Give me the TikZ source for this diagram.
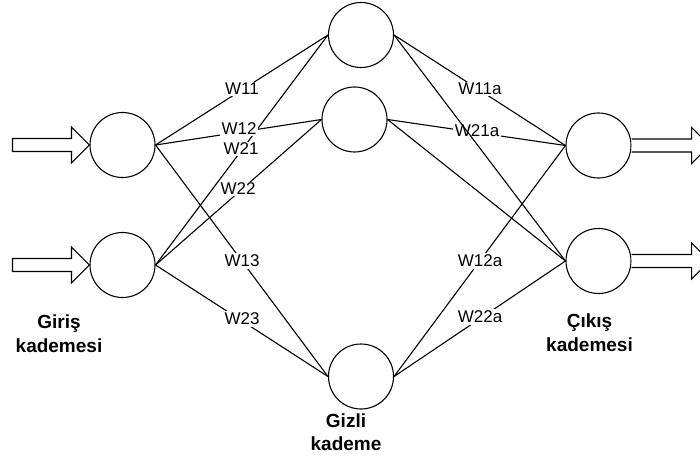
\documentclass[tikz,border=0pt]{standalone}
\usepackage{fontspec}
\setmainfont{Liberation Sans}
\begin{document}
\begin{tikzpicture}[x=1pt,y=-1pt,
  neuron/.style={circle,draw,line width=1.1pt,minimum size=65pt,inner sep=0pt,fill=white},
  wlabel/.style={fill=white,inner sep=1.5pt,font=\fontsize{17}{19}\selectfont},
  edge/.style={line width=1.1pt},
  stagetitle/.style={font=\fontsize{19}{23.5}\selectfont\bfseries,align=center,inner sep=0pt,anchor=north},
  blockarrow/.style={draw,line width=1.1pt,fill=white,line join=miter}]
\useasboundingbox (0,0) rectangle (700,457);
% neurons
\node[neuron] (i1) at (122.5,145) {};
\node[neuron] (i2) at (122.5,265) {};
\node[neuron] (h1) at (361,35) {};
\node[neuron] (h2) at (354.5,119.5) {};
\node[neuron] (h3) at (361,376.5) {};
\node[neuron] (o1) at (598.5,145.5) {};
\node[neuron] (o2) at (598.5,261) {};
% labelled connectors
\draw[edge] (i1.east) -- (h1.west);
\draw[edge] (i1.east) -- (h2.west);
\draw[edge] (i1.east) -- (h3.west);
\draw[edge] (i2.east) -- (h1.west);
\draw[edge] (i2.east) -- (h2.west);
\draw[edge] (i2.east) -- (h3.west);
\draw[edge] (h1.east) -- (o1.west);
\draw[edge] (h2.east) -- (o1.west);
\draw[edge] (h3.east) -- (o1.west);
\draw[edge] (h3.east) -- (o2.west);
% weight labels
\node[wlabel] (w11) at (242,89) {W11};
\node[wlabel] (w21) at (241,149) {W21};
\node[wlabel] (w12) at (239,129) {W12};
\node[wlabel] (w22) at (238,189) {W22};
\node[wlabel] (w13) at (242,261) {W13};
\node[wlabel] (w23) at (242,319) {W23};
\node[wlabel] (w11a) at (480,89) {W11a};
\node[wlabel] (w21a) at (477,131) {W21a};
\node[wlabel] (w12a) at (480,261) {W12a};
\node[wlabel] (w22a) at (480,317) {W22a};
% unlabelled connectors
\draw[edge] (h1.east) -- (o2.west);
\draw[edge] (h2.east) -- (o2.west);
% block arrows
\foreach \n in {i1,i2}{
  \draw[blockarrow] ([shift={(-77,-6.5)}]\n.west) -- ([shift={(-18,-6.5)}]\n.west)
    -- ([shift={(-18,-18)}]\n.west) -- (\n.west) -- ([shift={(-18,18)}]\n.west)
    -- ([shift={(-18,6.5)}]\n.west) -- ([shift={(-77,6.5)}]\n.west) -- cycle;
}
\foreach \n in {o1,o2}{
  \draw[blockarrow] ([shift={(0,-6.5)}]\n.east) -- ([shift={(60,-6.5)}]\n.east)
    -- ([shift={(60,-18)}]\n.east) -- ([shift={(78,0)}]\n.east) -- ([shift={(60,18)}]\n.east)
    -- ([shift={(60,6.5)}]\n.east) -- ([shift={(0,6.5)}]\n.east);
}
% stage titles
\node[stagetitle] (tin) at (59,315) {Giriş\\kademesi};
\node[stagetitle] (thid) at (346,413.5) {Gizli\\kademe};
\node[stagetitle] (tout) at (589.5,314) {Çıkış\\kademesi};
\end{tikzpicture}
\end{document}
